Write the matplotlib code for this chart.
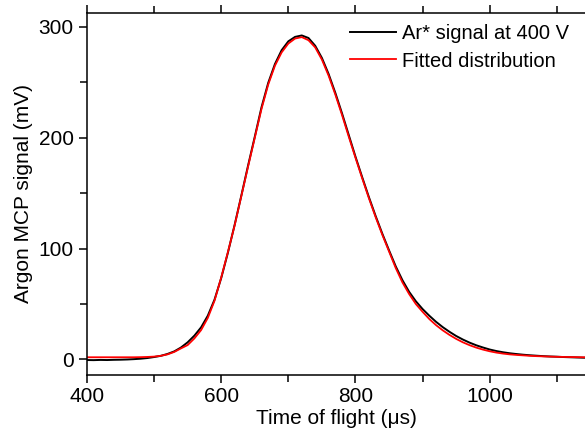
import matplotlib
matplotlib.use("Agg")
import matplotlib.pyplot as plt
from matplotlib.ticker import MultipleLocator, FuncFormatter

# time of flight (us), 10 us steps
time_us = list(range(400, 1151, 10))

# measured Ar* signal at 400 V (mV)
signal_mv = [
    -0.5, -0.6, -0.4, -0.5, -0.3, -0.2, 0.0, 0.3, 0.7, 1.3,
    2.2, 3.3, 5.0, 7.3, 10.8, 15.5, 21.5, 29.0, 39.5, 54.0,
    73.5, 96.5, 121.5, 148.0, 175.0, 201.0, 227.5, 249.5, 266.5, 279.0,
    287.0, 291.0, 292.3, 290.0, 283.0, 272.0, 257.5, 240.5, 222.0, 202.5,
    183.0, 164.5, 146.5, 129.5, 113.5, 98.5, 84.0, 71.5, 61.0, 52.5,
    45.5, 39.5, 34.0, 29.2, 25.0, 21.2, 18.0, 15.2, 12.8, 10.8,
    9.0, 7.6, 6.5, 5.6, 4.9, 4.3, 3.8, 3.4, 3.0, 2.7,
    2.5, 2.2, 2.0, 1.8, 1.6, 1.5,
]

# fitted distribution (mV)
fit_mv = [
    2.0, 2.0, 2.0, 2.0, 2.0, 2.0, 2.0, 2.0, 2.1, 2.3,
    2.6, 3.3, 4.6, 6.8, 10.0, 13.0, 19.0, 26.5, 37.5, 53.0,
    74.0, 97.0, 121.0, 147.5, 174.0, 200.0, 226.0, 248.0, 265.0, 277.0,
    285.0, 289.5, 290.8, 288.0, 281.5, 270.5, 256.0, 239.0, 220.5, 201.0,
    182.0, 163.5, 145.5, 128.5, 112.5, 97.5, 82.5, 69.5, 59.0, 50.0,
    43.0, 36.5, 31.0, 26.3, 22.2, 18.6, 15.5, 12.9, 10.7, 8.9,
    7.4, 6.2, 5.3, 4.6, 4.1, 3.7, 3.3, 3.0, 2.8, 2.6,
    2.4, 2.3, 2.2, 2.1, 2.0, 2.0,
]

plt.rcParams["font.family"] = ["Liberation Sans", "DejaVu Sans"]

fig = plt.figure(figsize=(5.85, 4.32), dpi=100)
ax = fig.add_axes([87 / 585, 57 / 432, 498 / 585, 362.5 / 432])

ax.plot(time_us, signal_mv, color="black", lw=1.4, label="Ar* signal at 400 V")
ax.plot(time_us, fit_mv, color="red", lw=1.3, label="Fitted distribution")

ax.set_xlim(400, 1142)
ax.set_ylim(-14, 313)

ax.xaxis.set_major_locator(MultipleLocator(200))
ax.xaxis.set_minor_locator(MultipleLocator(100))
ax.yaxis.set_major_locator(MultipleLocator(100))
ax.yaxis.set_minor_locator(MultipleLocator(50))
ax.yaxis.set_major_formatter(FuncFormatter(lambda v, p: f"{v:.0f}"))

ax.tick_params(which="both", direction="out", top=True, right=False,
               width=1.1, labelsize=15)
ax.tick_params(which="major", length=6)
ax.tick_params(which="minor", length=5)
ax.tick_params(axis="x", which="both", labeltop=False, pad=3)
ax.spines["right"].set_visible(False)
for s in ["left", "bottom", "top"]:
    ax.spines[s].set_linewidth(1.1)

ax.set_xlabel("Time of flight (μs)", fontsize=15, labelpad=2)
ax.set_ylabel("Argon MCP signal (mV)", fontsize=15, labelpad=4)

ax.legend(loc="upper left", bbox_to_anchor=(0.528, 0.967), frameon=False,
          fontsize=14.5, handlelength=2.3, handletextpad=0.3,
          labelspacing=0.4, borderaxespad=0, borderpad=0)

fig.savefig("out.png", dpi=100)
